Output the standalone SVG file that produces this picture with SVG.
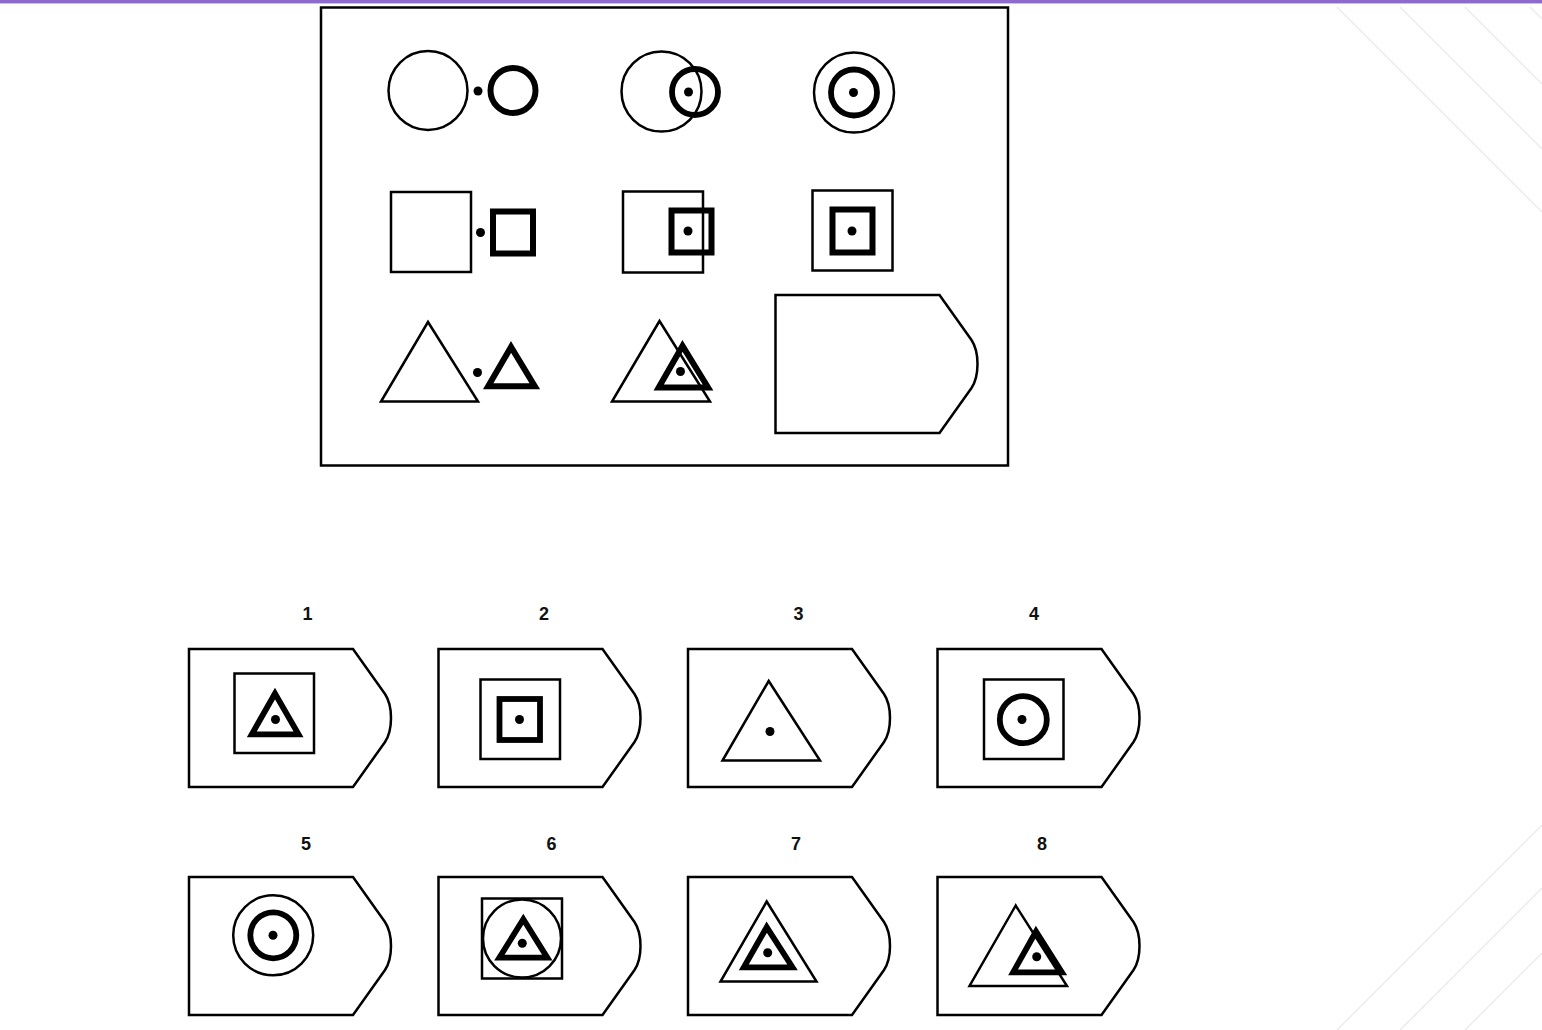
<svg xmlns="http://www.w3.org/2000/svg" xmlns:xlink="http://www.w3.org/1999/xlink" width="1542" height="1030" viewBox="0 0 1542 1030">
<style>
.thin{fill:none;stroke:#000;stroke-width:2.5}
.thick{fill:none;stroke:#000;stroke-width:6}
.mid{fill:none;stroke:#000;stroke-width:5.8}
.dot{fill:#000}
.lbl{font-family:"Liberation Sans",Arial,sans-serif;font-weight:bold;font-size:18px;text-anchor:middle;fill:#111}
.deco{stroke:#ececec;stroke-width:1.5;fill:none}
</style>
<defs>
<path id="tag" d="M0,0 H164 L196,45 C204,57 204,81 196,93 L164,138 H0 Z" fill="#fff" stroke="#000" stroke-width="2.5"/>
</defs>
<rect x="0" y="0" width="1542" height="1030" fill="#fff"/>
<g id="decor">
<rect x="0" y="0" width="1542" height="3" fill="#8e6ad0"/>
<line x1="0" y1="3.5" x2="1542" y2="3.5" stroke="#cdbdf0" stroke-width="1"/>
<line class="deco" x1="1337" y1="7" x2="1542" y2="212"/>
<line class="deco" x1="1400" y1="7" x2="1542" y2="149"/>
<line class="deco" x1="1465" y1="7" x2="1542" y2="84"/>
<line class="deco" x1="1530" y1="7" x2="1542" y2="19"/>
<line class="deco" x1="1337" y1="1030" x2="1542" y2="825"/>
<line class="deco" x1="1400" y1="1030" x2="1542" y2="888"/>
<line class="deco" x1="1465" y1="1030" x2="1542" y2="953"/>
</g>
<g id="matrix">
<rect x="321" y="7.5" width="687" height="458" fill="none" stroke="#000" stroke-width="2.5"/>
</g>
<g id="cell-1-1">
<circle class="thin" cx="428" cy="90.5" r="39.5"/>
<circle class="dot" cx="478" cy="91" r="4.5"/>
<circle class="thick" cx="513" cy="90.5" r="22.5"/>
</g>
<g id="cell-1-2">
<circle class="thin" cx="661.5" cy="91.5" r="40"/>
<circle class="mid" cx="695" cy="92" r="23"/>
<circle class="dot" cx="688.5" cy="92" r="4.5"/>
</g>
<g id="cell-1-3">
<circle class="thin" cx="854" cy="92.5" r="40"/>
<circle class="mid" cx="854" cy="92.5" r="23"/>
<circle class="dot" cx="853.5" cy="92.5" r="4.5"/>
</g>
<g id="cell-2-1">
<rect class="thin" x="391" y="192" width="80" height="80"/>
<circle class="dot" cx="480.5" cy="232.5" r="4.5"/>
<rect class="thick" x="493" y="211.5" width="40" height="42"/>
</g>
<g id="cell-2-2">
<rect class="thin" x="623" y="191.5" width="80" height="81"/>
<rect class="thick" x="671.5" y="210.5" width="40" height="42"/>
<circle class="dot" cx="688" cy="231" r="4.5"/>
</g>
<g id="cell-2-3">
<rect class="thin" x="812.5" y="190.5" width="80" height="80"/>
<rect class="thick" x="832.5" y="209.5" width="40" height="43"/>
<circle class="dot" cx="852" cy="231" r="4.5"/>
</g>
<g id="cell-3-1">
<polygon class="thin" points="428,322 381,401.5 478,401.5"/>
<circle class="dot" cx="477.5" cy="372.5" r="4.5"/>
<polygon class="thick" points="511,347 488.2,386.3 534.8,386.3"/>
</g>
<g id="cell-3-2">
<polygon class="thin" points="659.5,321 612,401.5 710,401.5"/>
<polygon class="thick" points="682.5,346 658.7,387.5 708,387.5"/>
<circle class="dot" cx="680.5" cy="371.5" r="4.5"/>
</g>
<g id="cell-3-3">
<use xlink:href="#tag" href="#tag" x="775.5" y="295"/>
</g>
<g id="option-1">
<text class="lbl" x="307.5" y="619.5">1</text>
<use xlink:href="#tag" href="#tag" x="189" y="649"/>
<rect class="thin" x="234.5" y="673.5" width="79.5" height="79.5"/>
<polygon class="mid" points="275,693.5 251.8,734.3 298.5,734.3"/>
<circle class="dot" cx="275.5" cy="719.5" r="4.5"/>
</g>
<g id="option-2">
<text class="lbl" x="544" y="619.5">2</text>
<use xlink:href="#tag" href="#tag" x="438.5" y="649"/>
<rect class="thin" x="480.5" y="679.5" width="79.5" height="79.5"/>
<rect class="mid" x="499.5" y="699" width="40.5" height="41"/>
<circle class="dot" cx="519.5" cy="719.5" r="4.5"/>
</g>
<g id="option-3">
<text class="lbl" x="798.5" y="619.5">3</text>
<use xlink:href="#tag" href="#tag" x="688" y="649"/>
<polygon class="thin" points="768.7,681 722.5,760.5 820,760.5"/>
<circle class="dot" cx="770" cy="731.5" r="4.5"/>
</g>
<g id="option-4">
<text class="lbl" x="1034" y="619.5">4</text>
<use xlink:href="#tag" href="#tag" x="937.5" y="649"/>
<rect class="thin" x="984" y="679.5" width="79.5" height="79.5"/>
<circle class="mid" cx="1023.3" cy="719.7" r="23.5"/>
<circle class="dot" cx="1022" cy="719.5" r="4.5"/>
</g>
<g id="option-5">
<text class="lbl" x="306" y="849.5">5</text>
<use xlink:href="#tag" href="#tag" x="189" y="877"/>
<circle class="thin" cx="273.2" cy="935.3" r="40"/>
<circle class="mid" cx="273.3" cy="935.3" r="23"/>
<circle class="dot" cx="273" cy="935.3" r="4.5"/>
</g>
<g id="option-6">
<text class="lbl" x="551.5" y="849.5">6</text>
<use xlink:href="#tag" href="#tag" x="438.5" y="877"/>
<rect class="thin" x="482" y="898.5" width="80" height="80"/>
<circle class="thin" cx="522" cy="938.5" r="39"/>
<polygon class="mid" points="523.3,919.3 499.4,957.6 547.3,957.6"/>
<circle class="dot" cx="522.3" cy="943.3" r="4.5"/>
</g>
<g id="option-7">
<text class="lbl" x="796" y="849.5">7</text>
<use xlink:href="#tag" href="#tag" x="688" y="877"/>
<polygon class="thin" points="766.7,901.5 720.5,981.5 816.5,981.5"/>
<polygon class="mid" points="766.7,927.2 743.8,967.3 792.5,967.3"/>
<circle class="dot" cx="767.7" cy="952.7" r="4.5"/>
</g>
<g id="option-8">
<text class="lbl" x="1042" y="849.5">8</text>
<use xlink:href="#tag" href="#tag" x="937.5" y="877"/>
<polygon class="thin" points="1015.7,905.5 969.5,986 1067,986"/>
<polygon class="mid" points="1036,931.5 1013.1,972.3 1061.9,972.3"/>
<circle class="dot" cx="1036.7" cy="956.7" r="4.5"/>
</g>
</svg>
